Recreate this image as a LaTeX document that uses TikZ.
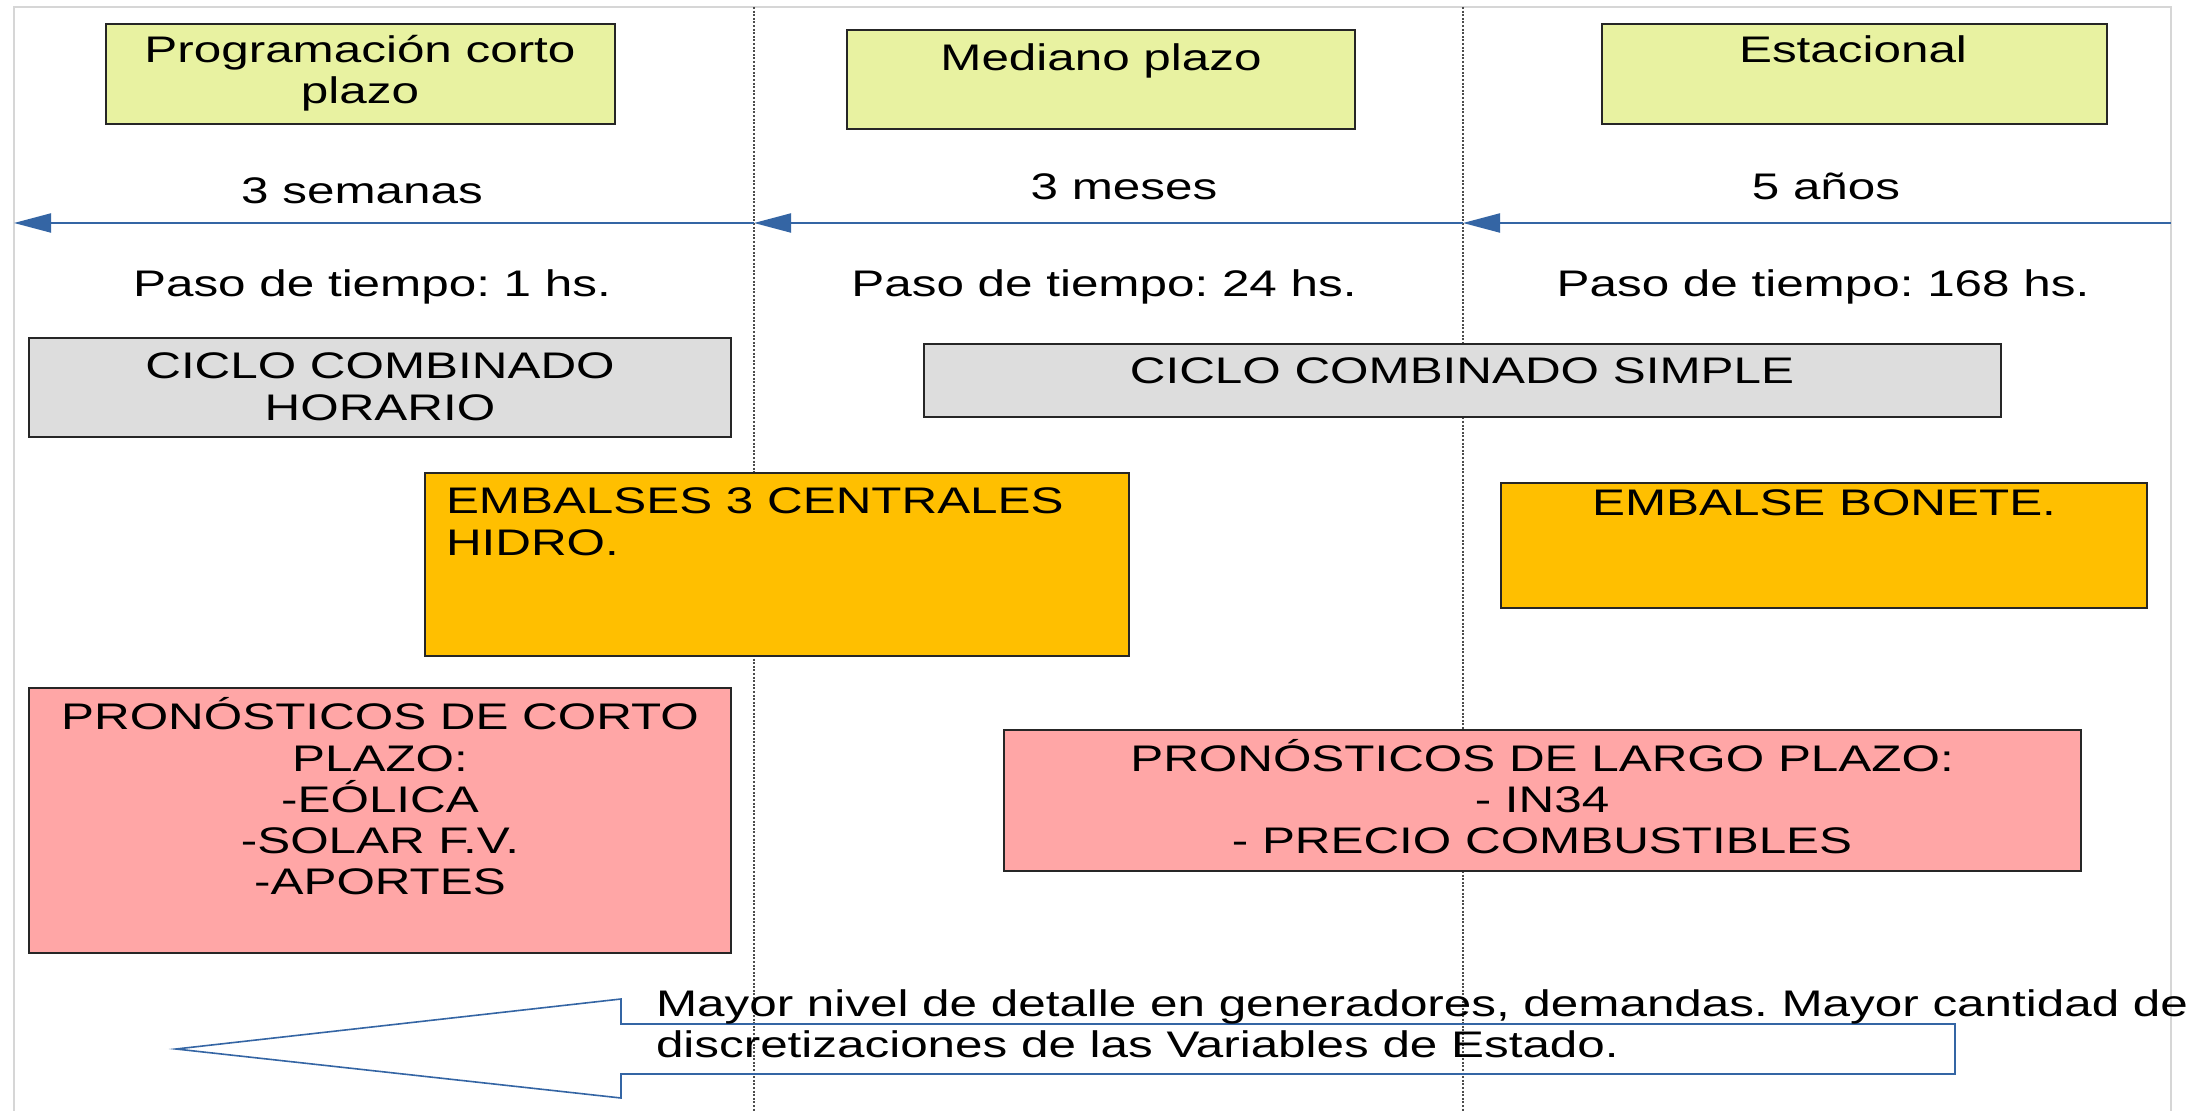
\documentclass[tikz,border=0pt]{standalone}
\usepackage{fontspec}
\setmainfont{Liberation Sans}[FakeStretch=1.335]
\usetikzlibrary{arrows.meta}
\definecolor{ygreen}{HTML}{E8F2A1}
\definecolor{gbox}{HTML}{DDDDDD}
\definecolor{obox}{HTML}{FFBF00}
\definecolor{pbox}{HTML}{FFA6A6}
\definecolor{lblue}{HTML}{3465A4}
\definecolor{framegray}{HTML}{D6D6D6}
\frenchspacing
\begin{document}
\begin{tikzpicture}[x=0.5pt,y=-0.5pt,
  font=\fontsize{18.5}{20.6}\selectfont\frenchspacing,
  box/.style={rectangle, draw=black!85, line width=0.8pt, inner sep=0pt},
  txt/.style={anchor=base, inner sep=0pt, outer sep=0pt},
  ltxt/.style={anchor=base west, inner sep=0pt, outer sep=0pt},
  sepline/.style={draw=black!70, line width=0.75pt, dash pattern=on 1pt off 0.8pt},
  timeline/.style={draw=lblue, line width=1pt, -{Triangle[length=18.5pt,width=9.5pt]}},
  bigarrow/.style={draw=lblue, line width=0.8pt, line join=miter}
]
\useasboundingbox[fill=white] (0,0) rectangle (2204,1111);
% frame
\draw[framegray, line width=1.2pt] (14,1111) -- (14,7) -- (2171,7) -- (2171,1111);
% separators
\coordinate (s1t) at (754,7);   \coordinate (s1b) at (754,1111);
\coordinate (s2t) at (1463,7);  \coordinate (s2b) at (1463,1111);
\draw[sepline] (s1t) -- (s1b);
\draw[sepline] (s2t) -- (s2b);
% timeline
\coordinate (t0) at (14,223);
\coordinate (t1) at (754,223);
\coordinate (t2) at (1463,223);
\coordinate (t3) at (2171,223);
\draw[timeline] (t1) -- (t0);
\draw[timeline] (t2) -- (t1);
\draw[timeline] (t3) -- (t2);
% header boxes
\node[box, fill=ygreen, minimum width=254.5pt, minimum height=50pt] (prog) at (360.5,74) {};
\node[box, fill=ygreen, minimum width=254pt, minimum height=49.5pt] (med) at (1101,79.5) {};
\node[box, fill=ygreen, minimum width=252.5pt, minimum height=50pt] (est) at (1854.5,74) {};
\node[txt] (prog1) at (360,63) {Programación corto};
\node[txt] (prog2) at (360,104) {plazo};
\node[txt] (med1) at (1101,71) {Mediano plazo};
\node[txt] (est1) at (1853,63) {Estacional};
% durations
\node[txt] (d1) at (362,204) {3 semanas};
\node[txt] (d2) at (1124,200) {3 meses};
\node[txt] (d3) at (1826,200) {5 años};
% steps
\node[txt] (p1) at (372,297) {Paso de tiempo: 1 hs.};
\node[txt] (p2) at (1104,297) {Paso de tiempo: 24 hs.};
\node[txt] (p3) at (1823,297) {Paso de tiempo: 168 hs.};
% ciclo boxes
\node[box, fill=gbox, minimum width=351pt, minimum height=49.5pt] (cch) at (380,387.5) {};
\node[txt] (cch1) at (380,379) {CICLO COMBINADO};
\node[txt] (cch2) at (380,421) {HORARIO};
\node[box, fill=gbox, minimum width=538.5pt, minimum height=36.5pt] (ccs) at (1462.5,380.5) {};
\node[txt] (ccs1) at (1462,384) {CICLO COMBINADO SIMPLE};
% embalses
\node[box, fill=obox, minimum width=352pt, minimum height=91.5pt] (emb) at (777,564.5) {};
\node[ltxt] (emb1) at (446,514) {EMBALSES 3 CENTRALES};
\node[ltxt] (emb2) at (446,556) {HIDRO.};
\node[box, fill=obox, minimum width=323pt, minimum height=62.5pt] (bon) at (1824,545.5) {};
\node[txt] (bon1) at (1824,516) {EMBALSE BONETE.};
% pronosticos
\node[box, fill=pbox, minimum width=351pt, minimum height=132.5pt] (pc) at (380,820.5) {};
\node[txt] (pc1) at (380,729) {PRONÓSTICOS DE CORTO};
\node[txt] (pc2) at (380,771) {PLAZO:};
\node[txt] (pc3) at (380,812) {-EÓLICA};
\node[txt] (pc4) at (380,853) {-SOLAR F.V.};
\node[txt] (pc5) at (380,894) {-APORTES};
\node[box, fill=pbox, minimum width=538.5pt, minimum height=70.5pt] (pl) at (1542.5,800.5) {};
\node[txt] (pl1) at (1542,771) {PRONÓSTICOS DE LARGO PLAZO:};
\node[txt] (pl2) at (1542,812) {- IN34};
\node[txt] (pl3) at (1542,853) {- PRECIO COMBUSTIBLES};
% big arrow
\draw[bigarrow] (1955,1024) -- (621,1024) -- (621,999) -- (176,1049) -- (621,1098) -- (621,1074) -- (1955,1074) -- cycle;
\node[ltxt] (m1) at (656,1016) {Mayor nivel de detalle en generadores, demandas. Mayor cantidad de};
\node[ltxt] (m2) at (656,1057) {discretizaciones de las Variables de Estado.};
\end{tikzpicture}
\end{document}
